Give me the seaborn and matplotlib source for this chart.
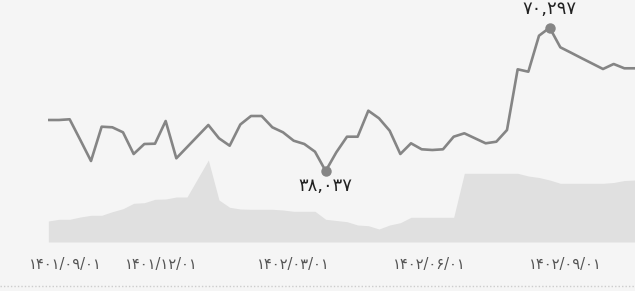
import numpy as np
import pandas as pd
import matplotlib.pyplot as plt
from matplotlib.lines import Line2D
import seaborn as sns

#----------DATA------------#
price = [49517, 49517, 49675, 45015, 40288, 48009, 47874, 46748, 41864, 44115,
         44182, 49292, 40896, 43394, 45893, 48392, 45398, 43732, 48504, 50417,
         50417, 47874, 46748, 44858, 44115, 42381, 38037, 42246, 45758, 45758,
         51611, 49900, 47109, 41864, 44272, 42922, 42764, 42922, 45758, 46523,
         45398, 44272, 44632, 47266, 60930, 60389, 68493, 70297, 65882, 64666,
         63428, 62213, 60997, 62123, 61155, 61155]

volume = [210, 227, 227, 250, 267, 267, 303, 333, 387, 393,
          427, 430, 450, 450, 635, 820, 420, 347, 330, 327,
          327, 327, 320, 307, 307, 307, 227, 215, 203, 170,
          163, 130, 170, 193, 247, 247, 247, 247, 247, 687,
          687, 687, 687, 687, 687, 660, 645, 620, 587, 587,
          587, 587, 587, 595, 615, 620]

tick_pos = [1.6, 10.6, 23.0, 35.7, 48.5]
tick_labels = ["۱۴۰۱/۰۹/۰۱", "۱۴۰۱/۱۲/۰۱", "۱۴۰۲/۰۳/۰۱", "۱۴۰۲/۰۶/۰۱", "۱۴۰۲/۰۹/۰۱"]

df = pd.DataFrame({"week": np.arange(len(price)), "price": price, "volume": volume})

#----------STYLE-----------#
BG = "#f5f5f5"
sns.set_theme(style="white", rc={"axes.facecolor": BG, "figure.facecolor": BG})
plt.rcParams["font.family"] = ["DejaVu Sans"]

fig = plt.figure(figsize=(6.35, 2.91), dpi=100)
ax_vol = fig.add_axes([0.0761, 0.1684, 0.9239, 0.8316])

#----------VOLUME AREA-----#
ax_vol.fill_between(df["week"], df["volume"], 0, color="#e0e0e0", linewidth=0)
ax_vol.set_ylim(0, 2420)
ax_vol.set_xlim(0, len(price) - 1)
ax_vol.set_yticks([])
ax_vol.set_xticks(tick_pos, tick_labels)
ax_vol.tick_params(axis="x", length=0, pad=11, labelsize=10.5, labelcolor="#555555")
for s in ax_vol.spines.values():
    s.set_visible(False)

#----------PRICE LINE------#
ax = ax_vol.twinx()
sns.lineplot(data=df, x="week", y="price", ax=ax, color="#858585", linewidth=1.9)
ax.set_ylim(22055, 76529)
ax.set_yticks([])
ax.set_ylabel("")
ax.set_xlabel("")
ax_vol.set_xlabel("")
for s in ax.spines.values():
    s.set_visible(False)

i_max = int(np.argmax(price))
i_min = int(np.argmin(price))
ax.plot([i_max, i_min], [price[i_max], price[i_min]], "o", color="#858585", markersize=6.5)

def fa_num(v):
    digits = "۰۱۲۳۴۵۶۷۸۹"
    return "".join(digits[int(c)] if c.isdigit() else c for c in f"{v:,}")

ax.annotate(fa_num(price[i_max]), (i_max, price[i_max]), xytext=(0, 13.5),
            textcoords="offset points", ha="center", va="center",
            fontsize=13, color="#222222")
ax.annotate(fa_num(price[i_min]), (i_min, price[i_min]), xytext=(0, -11),
            textcoords="offset points", ha="center", va="center",
            fontsize=13, color="#222222")

#----------BOTTOM RULE-----#
fig.add_artist(Line2D([0, 1], [0.017, 0.017], transform=fig.transFigure,
                      color="#cccccc", linewidth=1, linestyle=(0, (1, 1.5))))

plt.savefig("out.png", dpi=100)
